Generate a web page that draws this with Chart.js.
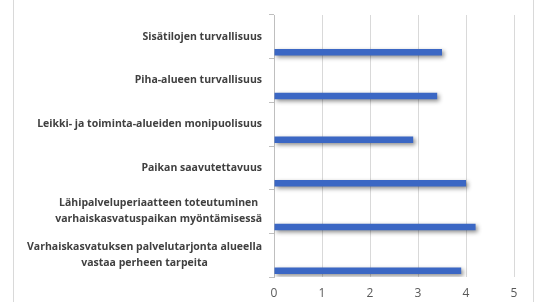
<!DOCTYPE html>
<html>
<head>
<meta charset="utf-8">
<script src="https://cdn.jsdelivr.net/npm/chart.js@4.4.0/dist/chart.umd.min.js"></script>
<style>
  html, body { margin: 0; padding: 0; background: #fff; }
  #wrap { position: relative; width: 537px; height: 302px; }
  .frame { position: absolute; left: 13px; top: -1px; width: 519px; height: 304px; border: 1px solid #d9d9d9; }
  canvas { position: absolute; left: 0; top: 0; }
</style>
</head>
<body>
<div id="wrap">
  <div class="frame"></div>
  <canvas id="chart" width="537" height="302"></canvas>
</div>
<script>
// kategoriat ylhäältä alas
const categories = [
    ['Sisätilojen turvallisuus'],
    ['Piha-alueen turvallisuus'],
    ['Leikki- ja toiminta-alueiden monipuolisuus'],
    ['Paikan saavutettavuus'],
    ['Lähipalveluperiaatteen toteutuminen', 'varhaiskasvatuspaikan myöntämisessä'],
    ['Varhaiskasvatuksen palvelutarjonta alueella', 'vastaa perheen tarpeita']
];
const values = [3.5, 3.4, 2.9, 4.0, 4.2, 3.9];
const emptySeries = [null, null, null, null, null, null];
const xTicks = [0, 1, 2, 3, 4, 5];

// Varjo palkkien alle (Excel-tyyli)
const barShadow = {
    id: 'barShadow',
    beforeDatasetsDraw(chart) {
        const ctx = chart.ctx;
        ctx.save();
        ctx.shadowColor = 'rgba(0,0,0,0.45)';
        ctx.shadowBlur = 4;
        ctx.shadowOffsetX = 2;
        ctx.shadowOffsetY = 2;
    },
    afterDatasetsDraw(chart) {
        chart.ctx.restore();
    }
};

// Kategorioiden nimet: oikealle tasattu lohko, rivit keskitetty lohkon sisällä
const categoryLabels = {
    id: 'categoryLabels',
    afterDraw(chart) {
        const ctx = chart.ctx;
        const yScale = chart.scales.y;
        const right = yScale.right - 12;
        const lineHeight = 16;
        ctx.save();
        ctx.font = 'bold 10.5px "Open Sans"';
        ctx.fillStyle = '#404040';
        ctx.textAlign = 'center';
        ctx.textBaseline = 'middle';
        categories.forEach((lines, i) => {
            const yc = yScale.getPixelForValue(i);
            const w = Math.max(...lines.map(l => ctx.measureText(l).width));
            const cx = right - w / 2;
            const y0 = yc - (lines.length - 1) * lineHeight / 2;
            lines.forEach((l, j) => ctx.fillText(l, cx, y0 + j * lineHeight));
        });
        ctx.restore();
    }
};

new Chart(document.getElementById('chart'), {
    type: 'bar',
    data: {
        labels: categories,
        datasets: [
            { data: emptySeries, backgroundColor: '#ed7d31' },
            { data: values, backgroundColor: '#3b67c4' }
        ]
    },
    options: {
        indexAxis: 'y',
        responsive: false,
        animation: false,
        categoryPercentage: 1.42,
        barPercentage: 0.21,
        layout: { padding: { top: 15, right: 23, bottom: 0, left: 0 } },
        plugins: {
            legend: { display: false },
            tooltip: { enabled: false }
        },
        scales: {
            x: {
                min: 0,
                max: 5,
                afterBuildTicks: scale => { scale.ticks = xTicks.map(v => ({ value: v })); },
                afterFit: scale => { scale.height = 25; },
                grid: { color: '#d9d9d9', drawTicks: false },
                border: { display: false },
                ticks: {
                    padding: 9,
                    color: '#595959',
                    font: { family: 'Open Sans', size: 12 }
                }
            },
            y: {
                afterFit: scale => { scale.width = 274; },
                grid: { offset: true, drawOnChartArea: false, drawTicks: true, tickLength: 5, color: '#bfbfbf' },
                border: { display: true, color: '#bfbfbf' },
                ticks: { display: false }
            }
        }
    },
    plugins: [barShadow, categoryLabels]
});
</script>
</body>
</html>
